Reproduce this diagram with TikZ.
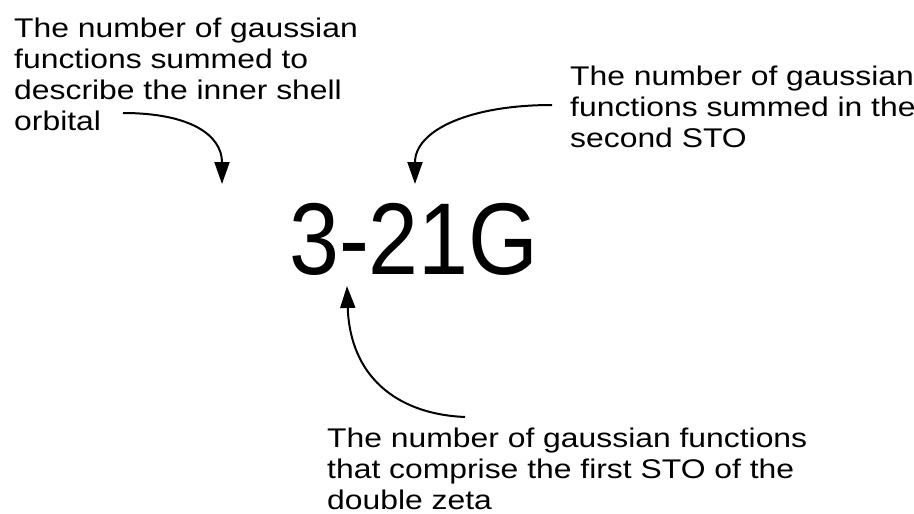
\documentclass[tikz,border=0pt]{standalone}
\usepackage{fontspec}
\setmainfont{Liberation Sans}
\usetikzlibrary{arrows.meta}
\tikzset{
  lbl/.style={anchor=base west, align=left, inner sep=0pt, font=\fontsize{27}{31}\selectfont, xscale=1.18, transform shape},
  big/.style={anchor=base west, inner sep=0pt, font=\fontsize{102}{102}\selectfont, xscale=0.88, transform shape},
  arr/.style={line width=2pt, -{Triangle[length=22pt,width=15pt]}}
}
\begin{document}
\begin{tikzpicture}[x=1pt,y=-1pt]
\useasboundingbox[fill=white] (0,0) rectangle (914,514);
\node[big] (g) at (289,274) {3-21G};
\node[lbl] (t1) at (14,130) {The number of gaussian\\functions summed to\\describe the inner shell\\orbital};
\node[lbl] (t2) at (570,147) {The number of gaussian\\functions summed in the\\second STO};
\node[lbl] (t3) at (327,509) {The number of gaussian functions\\that comprise the first STO of the\\double zeta};
\coordinate (s1) at (123,113);
\coordinate (e1) at (222,184);
\coordinate (s2) at (552,105);
\coordinate (e2) at (415,184);
\coordinate (s3) at (465,417);
\coordinate (e3) at (347,286);
\draw[arr] (s1) .. controls (190,113) and (222,135) .. (e1);
\draw[arr] (s2) .. controls (470,105) and (415,130) .. (e2);
\draw[arr] (s3) .. controls (395,414) and (350,375) .. (e3);
\end{tikzpicture}
\end{document}
